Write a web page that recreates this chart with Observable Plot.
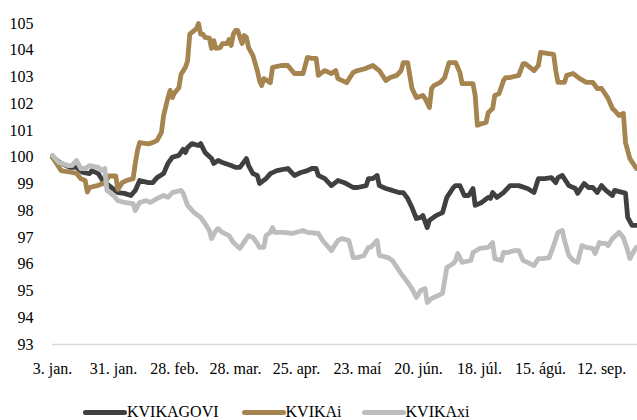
<!DOCTYPE html>
<html><head><meta charset="utf-8">
<script src="https://cdn.jsdelivr.net/npm/d3@7"></script>
<script src="https://cdn.jsdelivr.net/npm/@observablehq/plot@0.6"></script>
<style>
body{margin:0;background:#fff;font-family:'Liberation Serif','Times New Roman',Times,'Nimbus Roman','Nimbus Roman No9 L',FreeSerif,'DejaVu Serif','Noto Serif',Tinos,serif;}
#legend{display:flex;align-items:center;height:44px;margin-left:83px;font-size:16px;color:#000;}
.item{display:flex;align-items:center;}
.sw{display:inline-block;width:44px;height:5px;border-radius:3px;}
</style></head><body>
<div id="chart"></div>
<div id="legend"></div>
<script>
const year = "2022";
const seriesNames = ["KVIKAGOVI", "KVIKAi", "KVIKAxi"];
const seriesColors = ["#404040", "#a5844f", "#bdbdbd"];
const yTicks = [93, 94, 95, 96, 97, 98, 99, 100, 101, 102, 103, 104, 105];
const xTickDates = ["01-03","01-31","02-28","03-28","04-25","05-23","06-20","07-18","08-15","09-12"];
const xTickLabels = ["3. jan.","31. jan.","28. feb.","28. mar.","25. apr.","23. maí","20. jún.","18. júl.","15. ágú.","12. sep."];

const goviDates = ["01-03","01-07","01-11","01-14","01-17","01-20","01-21","01-24","01-26","01-30",
"02-02","02-05","02-08","02-10","02-12","02-16","02-18","02-20","02-23","02-25",
"02-27","03-02","03-04","03-05","03-06","03-08","03-11","03-12","03-14","03-17",
"03-18","03-20","03-22","03-26","03-28","03-30","04-02","04-03","04-05","04-07",
"04-08","04-11","04-13","04-16","04-21","04-24","04-27","04-30","05-02","05-04",
"05-05","05-08","05-11","05-14","05-17","05-21","05-23","05-27","05-28","05-30",
"06-01","06-02","06-05","06-08","06-11","06-13","06-15","06-17","06-19","06-21",
"06-22","06-24","06-25","06-28","07-01","07-03","07-06","07-07","07-09","07-11",
"07-13","07-15","07-16","07-19","07-22","07-23","07-24","07-26","07-29","08-01",
"08-05","08-09","08-12","08-14","08-17","08-20","08-22","08-23","08-25","08-28",
"08-31","09-01","09-04","09-06","09-08","09-10","09-12","09-14","09-17","09-18",
"09-22","09-23","09-24","09-26","09-28"];
const goviValues = [100.0,99.77,99.62,99.62,99.43,99.39,99.5,99.39,99.13,98.87,
98.68,98.65,98.57,98.76,99.13,99.05,99.05,99.24,99.39,99.77,
100.0,100.07,100.3,100.18,100.36,100.51,100.44,100.51,100.18,99.95,
99.77,99.88,99.8,99.69,99.62,99.62,99.95,99.69,99.39,99.32,
99.02,99.2,99.39,99.5,99.58,99.32,99.43,99.5,99.58,99.58,
99.32,99.2,98.94,99.13,99.05,98.87,98.87,98.94,99.2,99.2,
99.32,98.94,98.83,98.76,98.68,98.68,98.46,98.12,97.71,97.75,
97.82,97.37,97.64,97.82,97.93,98.5,98.87,98.94,98.94,98.57,
98.57,98.83,98.2,98.31,98.5,98.46,98.68,98.5,98.68,98.94,
98.94,98.83,98.68,99.2,99.2,99.24,99.05,99.24,99.32,98.94,
98.83,98.65,99.02,98.87,98.87,98.68,98.94,98.76,98.57,98.76,
98.68,98.65,97.75,97.45,97.45];

const kvikaiDates = ["01-03","01-07","01-12","01-14","01-16","01-18","01-19","01-20","01-24","01-27",
"01-29","02-01","02-02","02-04","02-06","02-09","02-10","02-11","02-12","02-16",
"02-18","02-20","02-22","02-23","02-25","02-26","02-27","02-28","03-02","03-03",
"03-05","03-06","03-07","03-10","03-11","03-12","03-13","03-14","03-16","03-17",
"03-18","03-19","03-21","03-22","03-24","03-25","03-26","03-27","03-28","03-29",
"03-31","04-01","04-02","04-03","04-05","04-07","04-08","04-09","04-10","04-13",
"04-14","04-18","04-21","04-24","04-28","04-30","05-02","05-04","05-05","05-06",
"05-08","05-11","05-13","05-14","05-18","05-21","05-23","05-26","05-30","06-02",
"06-05","06-07","06-10","06-12","06-13","06-15","06-17","06-19","06-22","06-23",
"06-25","06-26","06-27","06-30","07-02","07-04","07-07","07-09","07-10","07-15",
"07-16","07-17","07-19","07-21","07-22","07-24","07-25","07-27","07-29","07-30",
"08-01","08-05","08-07","08-08","08-12","08-14","08-15","08-18","08-21","08-22",
"08-23","08-26","08-27","08-30","09-02","09-05","09-08","09-10","09-12","09-15",
"09-17","09-18","09-20","09-22","09-23","09-25","09-28"];
const kvikaiValues = [100.0,99.5,99.43,99.4,99.2,99.13,98.7,98.87,98.95,99.05,
99.3,99.3,98.8,99.05,99.13,99.2,99.77,100.25,100.55,100.5,
100.55,100.63,100.93,101.56,102.23,102.5,102.23,102.4,102.6,103.1,
103.36,103.6,104.6,104.8,105.0,104.6,104.6,104.48,104.45,104.07,
104.36,104.07,104.1,104.25,104.25,104.4,104.18,104.6,104.74,104.74,
104.25,104.55,104.48,104.1,103.8,103.24,102.87,102.68,102.94,102.79,
103.36,103.43,103.43,103.13,103.13,103.73,103.7,103.7,103.06,103.13,
103.24,103.13,103.24,102.94,102.79,103.17,103.24,103.3,103.43,103.24,
102.87,102.98,103.06,103.24,103.54,103.54,102.57,102.23,102.31,102.2,
101.86,102.57,102.68,102.8,102.98,103.54,103.54,103.17,102.75,102.75,
102.31,101.19,101.26,101.3,101.67,101.82,102.31,102.38,102.87,102.98,
102.98,103.06,103.5,103.5,103.24,103.43,103.92,103.88,103.85,103.24,
102.8,102.8,103.06,103.13,102.94,102.8,102.8,102.57,102.57,102.2,
101.82,101.75,101.56,101.64,100.55,99.95,99.58];

const kvikaxiDates = ["01-03","01-06","01-10","01-12","01-14","01-16","01-18","01-20","01-24","01-26",
"01-27","01-28","01-31","02-02","02-05","02-09","02-10","02-12","02-15","02-17",
"02-20","02-23","02-25","02-27","03-03","03-04","03-06","03-09","03-12","03-14",
"03-16","03-17","03-19","03-20","03-22","03-25","03-27","03-30","04-02","04-03",
"04-05","04-07","04-08","04-10","04-11","04-13","04-14","04-15","04-19","04-23",
"04-28","04-30","05-05","05-07","05-11","05-14","05-16","05-19","05-21","05-23",
"05-26","05-28","05-29","06-01","06-02","06-06","06-08","06-12","06-15","06-17",
"06-19","06-21","06-23","06-24","06-26","06-29","07-01","07-03","07-06","07-07",
"07-08","07-10","07-14","07-15","07-18","07-22","07-24","07-25","07-28","07-29",
"07-31","08-03","08-05","08-07","08-09","08-12","08-14","08-16","08-19","08-21",
"08-23","08-25","08-26","08-28","08-30","09-01","09-03","09-05","09-08","09-09",
"09-11","09-12","09-14","09-15","09-17","09-20","09-22","09-24","09-25","09-27","09-28"];
const kvikaxiValues = [100.07,99.8,99.69,99.69,99.88,99.58,99.58,99.69,99.62,99.5,
99.58,98.76,98.57,98.38,98.31,98.27,98.0,98.31,98.38,98.31,
98.46,98.57,98.5,98.68,98.76,98.65,98.2,97.93,97.75,97.52,
97.26,96.96,97.26,97.34,97.19,97.07,96.81,96.59,96.96,97.07,
97.0,96.78,96.63,96.63,97.07,97.19,97.37,97.19,97.19,97.15,
97.26,97.19,97.15,96.89,96.51,96.89,96.96,96.89,96.25,96.25,
96.33,96.63,96.63,96.89,96.33,96.25,96.14,95.65,95.32,95.09,
94.76,95.02,95.09,94.57,94.72,94.83,94.91,95.88,96.03,96.14,
96.4,96.07,96.14,96.44,96.59,96.63,96.81,96.21,96.14,96.44,
96.44,96.51,96.51,96.14,96.07,95.95,96.21,96.21,96.25,96.7,
97.19,97.26,96.89,96.33,96.14,96.07,96.7,96.63,96.59,96.4,
96.81,96.78,96.78,96.7,96.96,97.19,97.0,96.51,96.21,96.51,96.63];

const serifStack = "'Liberation Serif','Times New Roman',Times,'Nimbus Roman','Nimbus Roman No9 L',FreeSerif,'DejaVu Serif','Noto Serif',Tinos,serif";
const parse = s => new Date(year + "-" + s + "T00:00:00Z");
const allDates = [goviDates, kvikaiDates, kvikaxiDates];
const allValues = [goviValues, kvikaiValues, kvikaxiValues];
const rows = [];
seriesNames.forEach((name, i) => {
  allDates[i].forEach((d, j) => {
    if (allValues[i][j] !== undefined) rows.push({series: name, date: parse(d), value: allValues[i][j]});
  });
});
const tickDates = xTickDates.map(parse);
const labelOf = d => { const k = tickDates.findIndex(t => +t === +d); return k >= 0 ? xTickLabels[k] : ""; };

const chart = Plot.plot({
  width: 637,
  height: 390,
  marginLeft: 52,
  marginRight: 0,
  marginTop: 23,
  marginBottom: 46,
  style: {fontFamily: serifStack, fontSize: "16px", color: "#000", background: "#fff"},
  x: {type: "utc", domain: [parse("01-03"), new Date(Date.UTC(2022, 8, 28, 12))], ticks: tickDates, tickFormat: labelOf, tickSize: 0, tickPadding: 18, label: null},
  y: {domain: [93, 105], ticks: yTicks, tickSize: 0, tickPadding: 19, label: null},
  color: {domain: seriesNames, range: seriesColors},
  marks: [
    Plot.ruleY([93], {stroke: "#d9d9d9", strokeWidth: 1.5}),
    Plot.lineY(rows, {x: "date", y: "value", z: "series", stroke: "series", strokeWidth: 4.8, strokeLinejoin: "round", strokeLinecap: "round", curve: "linear"})
  ]
});
chart.querySelectorAll("text").forEach(t => t.setAttribute("font-family", serifStack));
document.getElementById("chart").appendChild(chart);

const legend = document.getElementById("legend");
const gaps = [23, 20, 0];
seriesNames.forEach((name, i) => {
  const it = document.createElement("div");
  it.className = "item";
  it.style.marginRight = gaps[i] + "px";
  const sw = document.createElement("span");
  sw.className = "sw";
  sw.style.background = seriesColors[i];
  const tx = document.createElement("span");
  tx.textContent = name;
  it.appendChild(sw); it.appendChild(tx);
  legend.appendChild(it);
});
</script>
</body></html>
